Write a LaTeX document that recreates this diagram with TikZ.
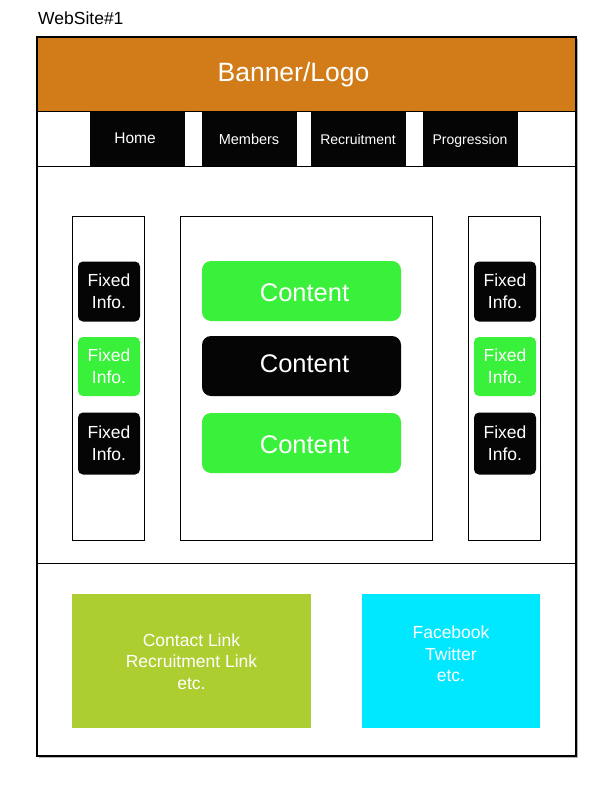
\documentclass[tikz,border=0pt]{standalone}
\usepackage{fontspec}
\setmainfont{Liberation Sans}
\definecolor{banner}{HTML}{D17C19}
\definecolor{cgreen}{HTML}{39F03A}
\definecolor{lime}{HTML}{ADCE30}
\definecolor{cyanbox}{HTML}{00E8FF}
\definecolor{nearblack}{HTML}{050505}
\tikzset{
  frame/.style={draw=black, line width=1.4pt},
  thinbox/.style={draw=black, line width=0.8pt, fill=white},
  navbtn/.style={fill=nearblack, minimum width=95pt, minimum height=55pt, inner sep=0pt},
  navtxt/.style={text=white, inner sep=0pt, font=\fontsize{14.5}{17}\selectfont},
  fixbox/.style={rounded corners=5pt, text=white, minimum width=62pt, minimum height=60pt, inner sep=0pt, align=center, font=\fontsize{17.5}{22}\selectfont},
  contbox/.style={rounded corners=9pt, minimum width=199pt, minimum height=60pt, inner sep=0pt},
  conttxt/.style={text=white, inner sep=0pt, font=\fontsize{25.5}{30}\selectfont},
  footbox/.style={text=white, inner sep=0pt, align=center, font=\fontsize{17.5}{21.5}\selectfont},
}
\begin{document}
\begin{tikzpicture}[x=1pt,y=-1pt]
\useasboundingbox (0,0) rectangle (612,792);
% title
\node[anchor=west, inner sep=0pt, font=\fontsize{17.5}{20}\selectfont] (title) at (38,18) {WebSite\#1};
% outer frame shadow
\fill[gray!60] (39,39) rectangle (578,758);
\fill[white] (37,37) rectangle (576,756);
% banner
\node[fill=banner, minimum width=539pt, minimum height=74pt, inner sep=0pt] (banner) at (306.5,74) {};
\node[text=white, inner sep=0pt, font=\fontsize{26.5}{30}\selectfont] (bannertxt) at (293.5,75) {Banner/Logo};
\draw[line width=0.8pt] (37,111) -- (576,111);
% nav
\node[navbtn] (home) at (137.5,138.5) {};
\node[navtxt, font=\fontsize{15.5}{18}\selectfont] (hometxt) at (135,138.5) {Home};
\node[navbtn] (members) at (249.5,138.5) {};
\node[navtxt] (memberstxt) at (249,139) {Members};
\node[navbtn] (recruit) at (358.5,138.5) {};
\node[navtxt, font=\fontsize{14}{17}\selectfont] (recruittxt) at (358,139) {Recruitment};
\node[navbtn] (progress) at (470.5,138.5) {};
\node[navtxt, font=\fontsize{14}{17}\selectfont] (progresstxt) at (470,141) {Progression};
\draw[line width=0.8pt] (37,166) -- (576,166);
\draw[line width=0.8pt] (37,563) -- (576,563);
% columns
\draw[thinbox] (72,216) rectangle (144,540);
\draw[thinbox] (180,216) rectangle (432,540);
\draw[thinbox] (468,216) rectangle (540,540);
% left fixed info
\node[fixbox, fill=nearblack] (l1) at (109,291.5) {Fixed\\Info.};
\node[fixbox, fill=cgreen, minimum height=59pt] (l2) at (109,366.5) {Fixed\\Info.};
\node[fixbox, fill=nearblack, minimum height=62pt] (l3) at (109,443.5) {Fixed\\Info.};
% right fixed info
\node[fixbox, fill=nearblack] (r1) at (505,291.5) {Fixed\\Info.};
\node[fixbox, fill=cgreen, minimum height=59pt] (r2) at (505,366.5) {Fixed\\Info.};
\node[fixbox, fill=nearblack, minimum height=62pt] (r3) at (505,443.5) {Fixed\\Info.};
% content
\node[contbox, fill=cgreen] (c1) at (301.5,291) {};
\node[conttxt] (c1txt) at (304.5,292.5) {Content};
\node[contbox, fill=nearblack] (c2) at (301.5,366) {};
\node[conttxt] (c2txt) at (304.5,363.5) {Content};
\node[contbox, fill=cgreen] (c3) at (301.5,443) {};
\node[conttxt] (c3txt) at (304.5,444.5) {Content};
% footer
\node[fill=lime, minimum width=239pt, minimum height=134pt, inner sep=0pt] (contact) at (191.5,661) {};
\node[footbox] (contacttxt) at (191.5,661.5) {Contact Link\\Recruitment Link\\etc.};
\node[fill=cyanbox, minimum width=178pt, minimum height=134pt, inner sep=0pt] (social) at (451,661) {};
\node[footbox] (socialtxt) at (451,654) {Facebook\\Twitter\\etc.};
% outer frame
\draw[frame] (37,37) rectangle (576,756);
\end{tikzpicture}
\end{document}
